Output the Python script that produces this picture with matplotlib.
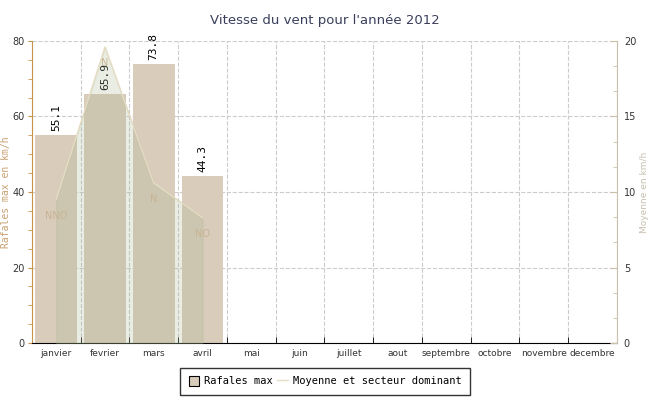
import numpy as np
import matplotlib.pyplot as plt
from matplotlib.ticker import MultipleLocator
from matplotlib.patches import Patch
from matplotlib.lines import Line2D

mois = ['janvier', 'fevrier', 'mars', 'avril', 'mai', 'juin', 'juillet',
        'aout', 'septembre', 'octobre', 'novembre', 'decembre']
rafales = [55.1, 65.9, 73.8, 44.3]
moyenne = [9.5, 19.6, 10.6, 8.3]
secteur = ['NNO', 'N', 'N', 'NO']

fig = plt.figure(figsize=(6.5, 4), dpi=100)
ax = fig.add_axes([0.049, 0.1425, 0.9, 0.755])
ax2 = ax.twinx()

x = np.arange(len(rafales))
ax.bar(x, rafales, width=0.86, color='#d9ccbb', zorder=2)
for xi, v in zip(x, rafales):
    ax.annotate('%.1f' % v, (xi, v), xytext=(0, 3), textcoords='offset points',
                rotation=90, ha='center', va='bottom', fontsize=8,
                family='DejaVu Sans Mono', color='black')

ax.set_xlim(-0.5, 11.5)
ax.set_ylim(0, 80)
ax.set_xticks(np.arange(12))
ax.set_xticklabels(mois, fontsize=6.5, color='#333333')
ax.set_xticks(np.arange(-0.5, 12, 1), minor=True)
ax.tick_params(axis='x', which='major', length=0, pad=4)
ax.tick_params(axis='x', which='minor', length=4, direction='in', color='black')
ax.yaxis.set_major_locator(MultipleLocator(20))
ax.yaxis.set_minor_locator(MultipleLocator(5))
ax.tick_params(axis='y', which='both', colors='#c8924a', labelcolor='#333333',
               labelsize=7, direction='out')
ax.tick_params(axis='y', which='major', length=3, pad=2)
ax.tick_params(axis='y', which='minor', length=3)
ax.grid(True, which='minor', axis='x', linestyle='--', color='#cccccc', lw=0.8, zorder=0)
ax.grid(True, which='major', axis='y', linestyle='--', color='#cccccc', lw=0.8, zorder=0)
ax.set_axisbelow(True)
ax.set_ylabel('Rafales max en km/h', fontsize=7, color='#c8a070',
              family='DejaVu Sans Mono')
ax.yaxis.set_label_coords(-0.035, 0.5)
ax.spines['left'].set_color('#c8924a')
ax.spines['bottom'].set_color('black')
ax.spines['top'].set_visible(False)
ax.spines['right'].set_visible(False)

ax2.fill_between(x, moyenne, color='#a8b890', alpha=0.25, zorder=3)
ax2.plot(x, moyenne, color='#e6dcc4', lw=1, zorder=4)
for xi, v, s in zip(x, moyenne, secteur):
    ax2.annotate(s, (xi, v), xytext=(0, -8), textcoords='offset points',
                 ha='center', va='top', fontsize=7, color='#c8b494')
ax2.set_ylim(0, 20)
ax2.yaxis.set_major_locator(MultipleLocator(5))
ax2.yaxis.set_minor_locator(MultipleLocator(5 / 3))
ax2.tick_params(axis='y', which='both', colors='#c8c0a8', labelcolor='#333333',
                labelsize=7, direction='in')
ax2.tick_params(axis='y', which='major', length=5, pad=5)
ax2.tick_params(axis='y', which='minor', length=3)
ax2.spines['right'].set_color('#c8c0a8')
for s in ['left', 'top', 'bottom']:
    ax2.spines[s].set_visible(False)
ax2.set_ylabel('Moyenne en km/h', fontsize=6.5, color='#c8c0b0')
ax2.yaxis.set_label_coords(1.04, 0.5)

fig.suptitle("Vitesse du vent pour l'année 2012", y=0.965, fontsize=9.5,
             color='#3a3f5c')

handles = [Patch(facecolor='#d9ccbb', edgecolor='black', lw=0.8),
           Line2D([0], [0], color='#e6dcc4', lw=1)]
leg = fig.legend(handles, ['Rafales max', 'Moyenne et secteur dominant'],
                 loc='lower center', bbox_to_anchor=(0.5, 0.0), ncol=2,
                 frameon=True, fancybox=False, edgecolor='black',
                 handlelength=1.0, handleheight=1.1, handletextpad=0.5,
                 columnspacing=0.4, borderpad=0.8,
                 prop={'family': 'DejaVu Sans Mono', 'size': 7.5})
leg.get_frame().set_linewidth(1)

fig.savefig('out.png', dpi=100)
